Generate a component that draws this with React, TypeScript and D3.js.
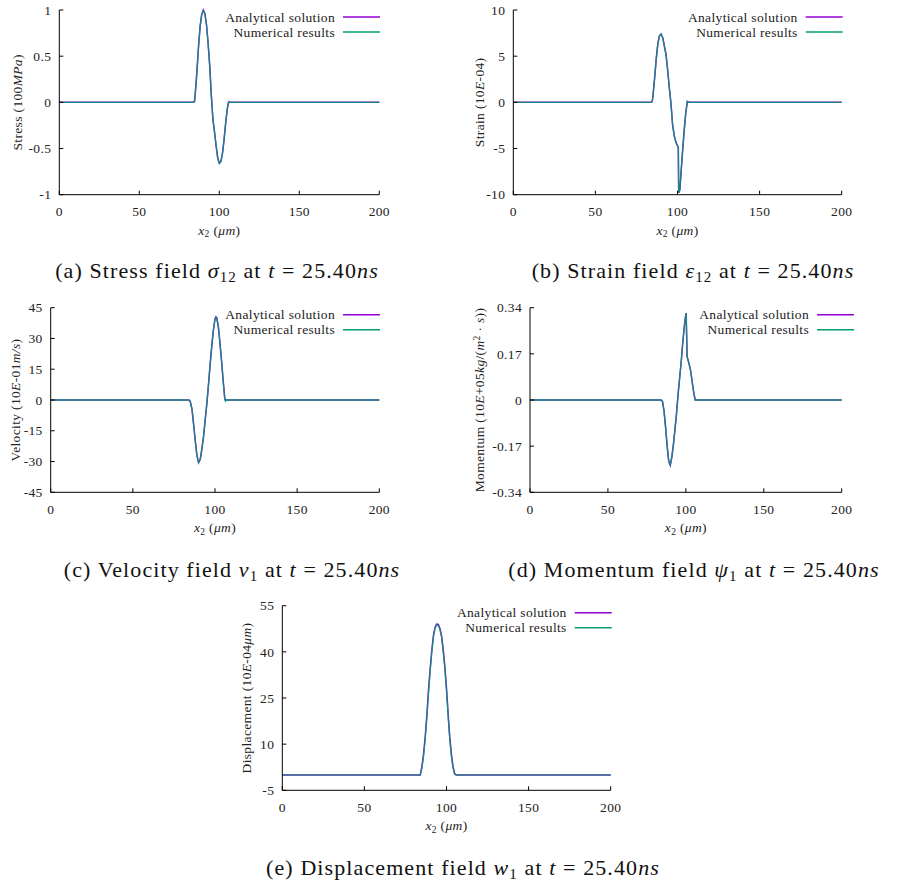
import React from "react";
import * as d3 from "d3";

// ---------- data ----------
const xTicks = [0, 50, 100, 150, 200];

const stressX = [0, 84, 84.5, 85, 86, 87, 88, 89, 90, 91, 92, 93, 94, 95, 96, 97, 98, 99, 100, 101, 102, 103, 104, 105, 105.8, 107, 200];
const stressAnalytical = [0, 0, 0.01, 0.1, 0.33, 0.6, 0.82, 0.95, 1.0, 0.96, 0.84, 0.64, 0.4, 0.08, -0.18, -0.32, -0.47, -0.6, -0.66, -0.64, -0.55, -0.4, -0.22, -0.07, 0, 0, 0];
const stressNumerical = [0, 0, 0.01, 0.1, 0.33, 0.6, 0.82, 0.95, 0.99, 0.96, 0.84, 0.64, 0.4, 0.08, -0.18, -0.32, -0.47, -0.6, -0.66, -0.64, -0.55, -0.4, -0.22, -0.07, 0.01, 0, 0];
const stressTicks = [-1, -0.5, 0, 0.5, 1];

const strainX = [0, 84, 84.6, 85, 86, 87, 88, 89, 90, 91, 92, 93, 94, 95, 96, 97, 98, 99, 100, 100.5, 100.7, 100.9, 101.5, 102, 103, 104, 105, 106, 107, 200];
const strainAnalytical = [0, 0, 0.1, 0.6, 2.5, 4.6, 6.3, 7.2, 7.4, 7.0, 6.1, 5.2, 3.5, 1.6, -0.1, -2.4, -3.6, -4.3, -4.7, -4.9, -9.4, -9.8, -9.4, -8.0, -5.5, -3.2, -1.2, 0.1, 0, 0];
const strainNumerical = [0, 0, 0.1, 0.6, 2.5, 4.6, 6.3, 7.2, 7.4, 7.0, 6.1, 5.2, 3.5, 1.6, -0.1, -2.4, -3.6, -4.3, -4.7, -4.9, -9.5, -9.8, -9.4, -8.0, -5.5, -3.2, -1.2, 0.1, 0, 0];
const strainTicks = [-10, -5, 0, 5, 10];

const velocityX = [0, 84, 84.6, 85, 86, 87, 88, 89, 90, 91, 92, 93, 94, 95, 96, 97, 98, 99, 100, 100.5, 101, 102, 103, 104, 105, 106, 106.4, 107, 200];
const velocityAnalytical = [0, 0, -0.3, -1, -4.5, -12, -20, -27, -30.5, -29, -24, -18, -10, -2, 7, 17, 26, 34, 39.5, 40.5, 40.2, 36, 28, 19, 9, 0.5, 0, 0, 0];
const velocityNumerical = [0, 0, -0.3, -1, -4.5, -12, -20, -27, -30.5, -29, -24, -18, -10, -2, 7, 17, 26, 34, 39.5, 40.5, 40.2, 36, 28, 19, 9, 0, -0.6, 0, 0];
const velocityTicks = [-45, -30, -15, 0, 15, 30, 45];

const momentumX = [0, 84, 84.6, 85, 86, 87, 88, 89, 90, 91, 92, 93, 94, 95, 96, 97, 98, 99, 100, 100.2, 100.8, 102, 103, 104, 105, 106, 107, 200];
const momentumAnalytical = [0, 0, -0.002, -0.006, -0.04, -0.1, -0.17, -0.225, -0.24, -0.21, -0.165, -0.11, -0.05, 0.02, 0.08, 0.14, 0.21, 0.27, 0.315, 0.32, 0.16, 0.135, 0.11, 0.07, 0.03, 0, 0, 0];
const momentumNumerical = [0, 0, -0.002, -0.006, -0.04, -0.1, -0.17, -0.225, -0.24, -0.21, -0.165, -0.11, -0.05, 0.02, 0.08, 0.14, 0.21, 0.27, 0.315, 0.32, 0.16, 0.135, 0.11, 0.07, 0.03, 0, 0, 0];
const momentumTicks = [-0.34, -0.17, 0, 0.17, 0.34];

const dispX = [0, 84, 85, 86, 87, 88, 89, 90, 91, 92, 93, 94, 95, 96, 97, 98, 99, 100, 101, 102, 103, 104, 105, 106, 200];
const dispAnalytical = [0, 0, 2.6, 6.6, 12.2, 19.2, 27.2, 34.2, 40.2, 45.1, 47.9, 49.0, 48.9, 47.6, 45.2, 40.7, 35.2, 28.2, 19.8, 12.2, 6.6, 2.6, 0.3, 0, 0];
const dispNumerical = [0, 0, 2.2, 6.0, 11.5, 18.4, 26.4, 33.5, 39.6, 44.7, 47.6, 48.7, 48.6, 47.3, 44.8, 40.0, 34.4, 27.4, 19.0, 11.5, 6.0, 2.2, 0.2, 0, 0];
const dispTicks = [-5, 10, 25, 40, 55];

const seriesNames = ["Analytical solution", "Numerical results"];

// ---------- styles ----------
const FONT = "'Liberation Serif', 'Times New Roman', serif";
const PURPLE = "#9400d3";
const TEAL = "#009e73";
const TXT = "#222";
const FS = 13.5;
const LS = 0.35;

type PanelProps = {
  x0: number; x1: number; y0: number; y1: number;
  xs: number[]; ana: number[]; num: number[];
  yDomain: [number, number]; yTicks: number[];
  yLabel: React.ReactNode; yLabelX: number;
  legendEnd: number;
};

function Panel(p: PanelProps) {
  const x = d3.scaleLinear().domain([0, 200]).range([p.x0, p.x1]);
  const y = d3.scaleLinear().domain(p.yDomain).range([p.y1, p.y0]);
  const line = d3.line<number>().x((_, i) => x(p.xs[i])).y((d) => y(d));
  const legendStart = p.legendEnd - 37;
  const cx = (p.x0 + p.x1) / 2;
  const cy = (p.y0 + p.y1) / 2;
  return (
    <g fontFamily={FONT} fill={TXT} letterSpacing={LS}>
      <path d={line(p.ana) || ""} fill="none" stroke={PURPLE} strokeWidth={1.5} />
      <path d={line(p.num) || ""} fill="none" stroke={TEAL} strokeWidth={1.3} strokeOpacity={0.85} />
      <line x1={p.x0} x2={p.x0} y1={p.y0} y2={p.y1} stroke="#000" strokeWidth={1} />
      <line x1={p.x0} x2={p.x1} y1={p.y1} y2={p.y1} stroke="#000" strokeWidth={1} />
      {p.yTicks.map((t) => (
        <g key={"y" + t}>
          <line x1={p.x0} x2={p.x0 + 4} y1={y(t)} y2={y(t)} stroke="#000" strokeWidth={1} />
          <text x={p.x0 - 8} y={y(t)} dy="0.35em" textAnchor="end" fontSize={FS}>{String(t)}</text>
        </g>
      ))}
      {xTicks.map((t) => (
        <g key={"x" + t}>
          <line x1={x(t)} x2={x(t)} y1={p.y1} y2={p.y1 - 4} stroke="#000" strokeWidth={1} />
          <text x={x(t)} y={p.y1 + 21.5} textAnchor="middle" fontSize={FS}>{t}</text>
        </g>
      ))}
      <text x={cx} y={p.y1 + 40} textAnchor="middle" fontSize={FS}>
        <tspan fontStyle="italic">x</tspan>
        <tspan fontSize={9.5} dy={2.5}>2</tspan>
        <tspan dy={-2.5}> (</tspan>
        <tspan fontStyle="italic">μm</tspan>
        <tspan>)</tspan>
      </text>
      <text transform={`translate(${p.yLabelX},${cy}) rotate(-90)`} textAnchor="middle" dy="0.35em" fontSize={FS}>
        {p.yLabel}
      </text>
      {seriesNames.map((n, i) => (
        <g key={n}>
          <text x={legendStart - 8} y={p.y0 + 7 + i * 15} dy="0.35em" textAnchor="end" fontSize={FS}>{n}</text>
          <line x1={legendStart} x2={p.legendEnd} y1={p.y0 + 7 + i * 15} y2={p.y0 + 7 + i * 15}
            stroke={i === 0 ? PURPLE : TEAL} strokeWidth={1.5} />
        </g>
      ))}
    </g>
  );
}

function Caption(props: { x: number; y: number; sym: string; sub: string; label: string }) {
  return (
    <text x={props.x} y={props.y} textAnchor="middle" fontFamily={FONT} fontSize={22} letterSpacing={1.1} fill="#111">
      {props.label} <tspan fontStyle="italic">{props.sym}</tspan>
      <tspan fontSize={15} dy={4}>{props.sub}</tspan>
      <tspan dy={-4}> at </tspan>
      <tspan fontStyle="italic">t</tspan> = 25.40<tspan fontStyle="italic">ns</tspan>
    </text>
  );
}

export default function App() {
  return (
    <svg width={903} height={885} style={{ position: "absolute", left: 0, top: 0, background: "#fff" }}>
      <rect width={903} height={885} fill="#fff" />
      <Panel x0={59.3} x1={379.3} y0={10} y1={194.7} xs={stressX} ana={stressAnalytical} num={stressNumerical}
        yDomain={[-1, 1]} yTicks={stressTicks} yLabelX={17} legendEnd={380}
        yLabel={<>Stress (100<tspan fontStyle="italic">MPa</tspan>)</>} />
      <Panel x0={513.3} x1={841.7} y0={10} y1={194.7} xs={strainX} ana={strainAnalytical} num={strainNumerical}
        yDomain={[-10, 10]} yTicks={strainTicks} yLabelX={479} legendEnd={842.7}
        yLabel={<>Strain (10<tspan fontStyle="italic">E</tspan>-04)</>} />
      <Panel x0={50.7} x1={379.3} y0={307.7} y1={492.3} xs={velocityX} ana={velocityAnalytical} num={velocityNumerical}
        yDomain={[-45, 45]} yTicks={velocityTicks} yLabelX={15} legendEnd={380}
        yLabel={<>Velocity (10<tspan fontStyle="italic">E</tspan>-01<tspan fontStyle="italic">m/s</tspan>)</>} />
      <Panel x0={530} x1={841.7} y0={307.7} y1={492.3} xs={momentumX} ana={momentumAnalytical} num={momentumNumerical}
        yDomain={[-0.34, 0.34]} yTicks={momentumTicks} yLabelX={479.3} legendEnd={854}
        yLabel={<>Momentum (10<tspan fontStyle="italic">E</tspan>+05<tspan fontStyle="italic">kg</tspan>/(<tspan fontStyle="italic">m</tspan><tspan fontSize={9.5} dy={-4}>2</tspan><tspan dy={4}> · </tspan><tspan fontStyle="italic">s</tspan>))</>} />
      <Panel x0={282.3} x1={610.7} y0={605.7} y1={790.3} xs={dispX} ana={dispAnalytical} num={dispNumerical}
        yDomain={[-5, 55]} yTicks={dispTicks} yLabelX={246.7} legendEnd={611.7}
        yLabel={<>Displacement (10<tspan fontStyle="italic">E</tspan>-04<tspan fontStyle="italic">μm</tspan>)</>} />

      <Caption x={217} y={278} label="(a) Stress field" sym="σ" sub="12" />
      <Caption x={693} y={278} label="(b) Strain field" sym="ε" sub="12" />
      <Caption x={232} y={577} label="(c) Velocity field" sym="v" sub="1" />
      <Caption x={694} y={577} label="(d) Momentum field" sym="ψ" sub="1" />
      <Caption x={463} y={875} label="(e) Displacement field" sym="w" sub="1" />
    </svg>
  );
}
